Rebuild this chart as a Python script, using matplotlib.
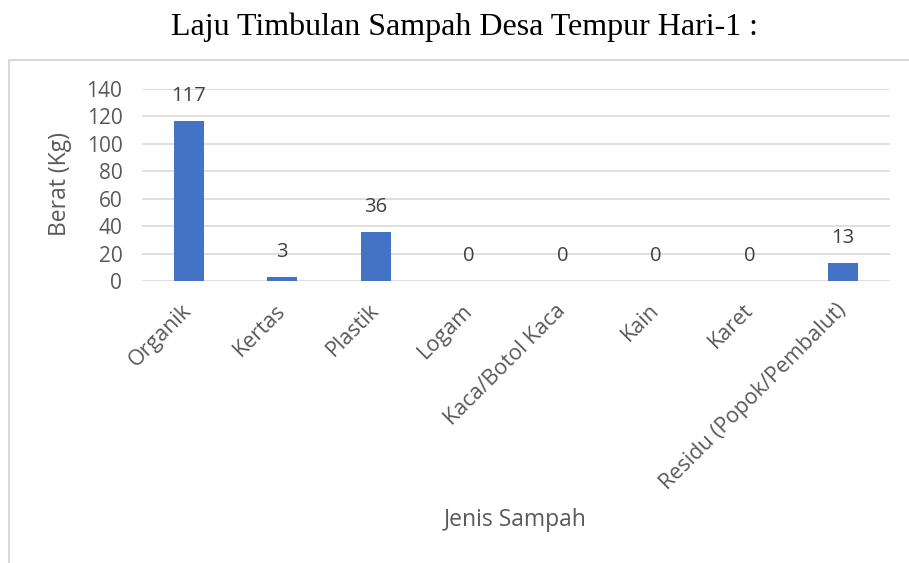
import matplotlib
matplotlib.use('Agg')
import matplotlib.pyplot as plt
from matplotlib.patches import Rectangle

categories = ['Organik', 'Kertas', 'Plastik', 'Logam', 'Kaca/Botol Kaca',
              'Kain', 'Karet', 'Residu (Popok/Pembalut)']
berat = [117, 3, 36, 0, 0, 0, 0, 13]
yticks = [0, 20, 40, 60, 80, 100, 120, 140]

plt.rcParams['font.family'] = ['Open Sans', 'DejaVu Sans']
gray = '#595959'

fig = plt.figure(figsize=(9.09, 5.63), dpi=100)

# chart area frame (only left/top visible in the original crop)
fig.patches.append(Rectangle((0.0099, -0.2), 1.2, 1.0935, transform=fig.transFigure,
                             fill=False, edgecolor='#d9d9d9', linewidth=1.5))

fig.text(0.5105, 0.9378, 'Laju Timbulan Sampah Desa Tempur Hari-1 :',
         family='Liberation Serif', fontsize=23, ha='center', va='baseline', color='black')

ax = fig.add_axes([0.156, 0.5009, 0.823, 0.3411])
x = list(range(len(categories)))
ax.bar(x, berat, width=0.32, color='#4472C4', zorder=3)
for xi, v in zip(x, berat):
    ax.annotate(str(v), (xi, v), xytext=(0, 18), textcoords='offset points',
                ha='center', va='center', fontsize=14.5, color='#404040')

ax.set_xlim(-0.5, len(categories) - 0.5)
ax.set_ylim(0, 140)
ax.set_yticks(yticks)
ax.set_xticks(x)
ax.set_xticklabels(categories, rotation=45, ha='right', va='center', rotation_mode='anchor')
ax.tick_params(axis='both', length=0, labelsize=15, colors=gray)
ax.tick_params(axis='x', labelsize=15.5, pad=19)
ax.tick_params(axis='y', pad=14)
ax.grid(axis='y', color='#d9d9d9', linewidth=1.2)
for s in ax.spines.values():
    s.set_visible(False)
ax.set_axisbelow(True)

fig.text(0.066, 0.673, 'Berat (Kg)', rotation=90, ha='center', va='center',
         fontsize=16.5, color=gray)
fig.text(0.567, 0.076, 'Jenis Sampah', ha='center', va='center', fontsize=16.5, color=gray)

fig.savefig('out.png', dpi=100)
